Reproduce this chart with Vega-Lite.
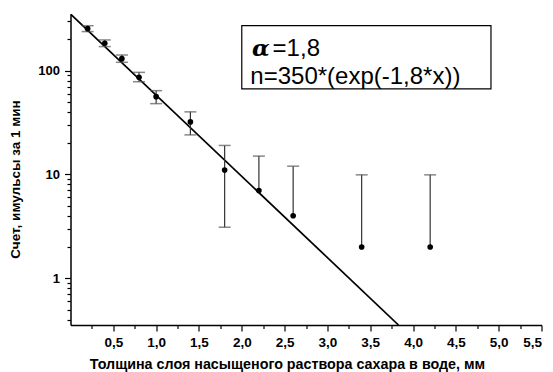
{
  "$schema": "https://vega.github.io/schema/vega-lite/v6.json",
  "width": 471,
  "height": 311,
  "autosize": {"type": "none"},
  "padding": {"left": 70.5, "top": 14, "right": 11.5, "bottom": 47},
  "background": "white",
  "config": {
    "view": {"stroke": null},
    "font": "Liberation Sans",
    "axis": {"grid": false, "domainColor": "black", "domainWidth": 1.5, "tickColor": "black", "tickWidth": 1.2, "labelColor": "black", "titleColor": "black", "labelFont": "Liberation Sans", "titleFont": "Liberation Sans", "labelFontWeight": "bold", "titleFontWeight": "bold"}
  },
  "datasets": {
    "pts": [
      {"x": 0.2, "y": 253, "lo": 237, "hi": 270},
      {"x": 0.4, "y": 183, "lo": 170, "hi": 197},
      {"x": 0.6, "y": 130, "lo": 120, "hi": 141},
      {"x": 0.8, "y": 86, "lo": 78, "hi": 96},
      {"x": 1.0, "y": 56, "lo": 48, "hi": 64},
      {"x": 1.4, "y": 32, "lo": 24, "hi": 40},
      {"x": 1.8, "y": 11, "lo": 3.1, "hi": 19},
      {"x": 2.2, "y": 7, "lo": 7, "hi": 15},
      {"x": 2.6, "y": 4, "lo": 4, "hi": 12},
      {"x": 3.4, "y": 2, "lo": 2, "hi": 9.9},
      {"x": 4.2, "y": 2, "lo": 2, "hi": 9.9}
    ],
    "fit": [
      {"x": 0, "y": 350},
      {"x": 3.83, "y": 0.355}
    ],
    "box": [
      {"x": 2.0, "x2": 4.91, "y": 270, "y2": 66.5}
    ],
    "alpha": [
      {"x": 2.12, "y": 160, "label": "α"}
    ],
    "txt": [
      {"x": 2.36, "y": 160, "label": "=1,8"},
      {"x": 2.1, "y": 86, "label": "n=350*(exp(-1,8*x))"}
    ]
  },
  "encoding": {
    "x": {
      "field": "x", "type": "quantitative",
      "scale": {"domain": [0, 5.5], "nice": false, "zero": false},
      "axis": {
        "title": "Толщина слоя насыщеного раствора сахара в воде, мм",
        "titleFontSize": 14.3,
        "titlePadding": 9,
        "titleX": 216.5,
        "values": [0.25, 0.5, 0.75, 1, 1.25, 1.5, 1.75, 2, 2.25, 2.5, 2.75, 3, 3.25, 3.5, 3.75, 4, 4.25, 4.5, 4.75, 5, 5.25, 5.5],
        "labelExpr": "datum.value % 0.5 === 0 ? replace(format(datum.value, '.1f'), '.', ',') : ''",
        "labelFontSize": 13.5,
        "labelPadding": 4,
        "tickSize": {"condition": {"test": "datum.value % 0.5 === 0", "value": 6}, "value": 3.5}
      }
    },
    "y": {
      "field": "y", "type": "quantitative",
      "scale": {"type": "log", "domain": [0.355, 350], "nice": false},
      "axis": {
        "title": "Счет, имульсы за 1 мин",
        "titleFontSize": 13.5,
        "titleX": -48,
        "titleY": 165,
        "values": [0.4, 0.5, 0.6, 0.7, 0.8, 0.9, 1, 2, 3, 4, 5, 6, 7, 8, 9, 10, 20, 30, 40, 50, 60, 70, 80, 90, 100, 200, 300],
        "labelExpr": "(datum.value === 1 || datum.value === 10 || datum.value === 100) ? datum.value + '' : ''",
        "labelFontSize": 13,
        "labelPadding": 5,
        "tickSize": {"condition": {"test": "datum.value === 1 || datum.value === 10 || datum.value === 100", "value": 6}, "value": 3.5}
      }
    }
  },
  "layer": [
    {
      "data": {"name": "box"},
      "mark": {"type": "rect", "fill": "white", "stroke": "black", "strokeWidth": 1.2},
      "encoding": {"x2": {"field": "x2"}, "y2": {"field": "y2"}}
    },
    {
      "data": {"name": "fit"},
      "mark": {"type": "line", "color": "black", "strokeWidth": 1.7, "clip": true},
      "encoding": {}
    },
    {
      "data": {"name": "pts"},
      "mark": {"type": "rule", "color": "#333", "strokeWidth": 1.2},
      "encoding": {"y": {"field": "lo"}, "y2": {"field": "hi"}}
    },
    {
      "data": {"name": "pts"},
      "mark": {"type": "tick", "orient": "horizontal", "color": "#555", "size": 12, "thickness": 1.5},
      "encoding": {"y": {"field": "hi"}}
    },
    {
      "data": {"name": "pts"},
      "transform": [{"filter": "datum.lo < datum.y"}],
      "mark": {"type": "tick", "orient": "horizontal", "color": "#555", "size": 12, "thickness": 1.5},
      "encoding": {"y": {"field": "lo"}}
    },
    {
      "data": {"name": "pts"},
      "mark": {"type": "circle", "color": "black", "opacity": 1, "size": 32},
      "encoding": {}
    },
    {
      "data": {"name": "alpha"},
      "mark": {"type": "text", "align": "left", "baseline": "middle", "font": "DejaVu Serif", "fontStyle": "italic", "fontWeight": "bold", "fontSize": 23, "color": "black"},
      "encoding": {"text": {"field": "label"}}
    },
    {
      "data": {"name": "txt"},
      "mark": {"type": "text", "align": "left", "baseline": "middle", "font": "Liberation Sans", "fontSize": 24, "color": "black"},
      "encoding": {"text": {"field": "label"}}
    }
  ]
}
